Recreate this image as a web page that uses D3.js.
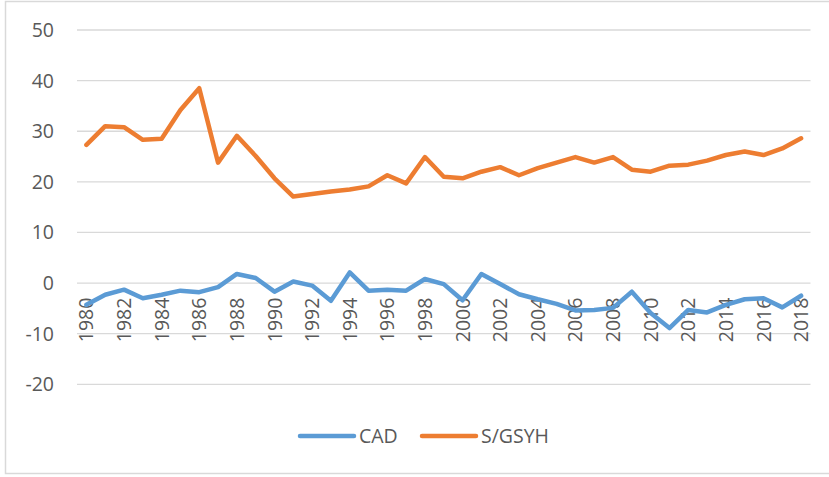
<!DOCTYPE html>
<html>
<head>
<meta charset="utf-8">
<script src="https://cdn.jsdelivr.net/npm/d3@7"></script>
<style>
  body { margin: 0; background: #fff; }
  svg { display: block; font-family: "Open Sans", "Liberation Sans", sans-serif; }
</style>
</head>
<body>
<svg id="chart" width="829" height="477"></svg>
<script>
"use strict";

var years = d3.range(1980, 2019);
var yTicks = [-20, -10, 0, 10, 20, 30, 40, 50];

// CAD
var cadValues = [
  -4.3, -2.3, -1.3, -3.0, -2.3, -1.5, -1.8, -0.8, 1.8, 1.0,
  -1.7, 0.3, -0.5, -3.5, 2.1, -1.5, -1.3, -1.5, 0.8, -0.2,
  -3.4, 1.8, -0.2, -2.2, -3.2, -4.1, -5.4, -5.3, -4.9, -1.7,
  -5.9, -8.9, -5.3, -5.8, -4.3, -3.2, -3.0, -4.8, -2.5
];

// S/GSYH
var sgsyhValues = [
  27.3, 31.0, 30.8, 28.3, 28.5, 34.2, 38.5, 23.8, 29.1, 25.1,
  20.7, 17.1, 17.6, 18.1, 18.5, 19.1, 21.3, 19.7, 24.9, 21.0,
  20.7, 22.0, 22.9, 21.3, 22.7, 23.8, 24.9, 23.8, 24.9, 22.4,
  22.0, 23.2, 23.4, 24.2, 25.3, 26.0, 25.3, 26.6, 28.6
];

var seriesNames = ["CAD", "S/GSYH"];
var seriesColors = ["#5B9BD5", "#ED7D31"];

var svg = d3.select("#chart");
var textColor = "#595959";
var gridColor = "#D9D9D9";

// chart frame (right edge runs off the picture)
svg.append("rect")
  .attr("x", 5.5).attr("y", 1.5)
  .attr("width", 840).attr("height", 472)
  .attr("fill", "none")
  .attr("stroke", gridColor)
  .attr("stroke-width", 1.5);

var x = d3.scalePoint().domain(years).range([77, 810.5]).padding(0.5);
var y = d3.scaleLinear().domain([-20, 50]).range([384.3, 30]);

// gridlines
svg.append("g")
  .selectAll("line")
  .data(yTicks)
  .enter()
  .append("line")
  .attr("x1", 77).attr("x2", 810.5)
  .attr("y1", function (d) { return y(d); })
  .attr("y2", function (d) { return y(d); })
  .attr("stroke", gridColor)
  .attr("stroke-width", 1.3);

// y tick labels
svg.append("g")
  .selectAll("text")
  .data(yTicks)
  .enter()
  .append("text")
  .attr("x", 54)
  .attr("y", function (d) { return y(d); })
  .attr("dy", "0.36em")
  .attr("text-anchor", "end")
  .attr("fill", textColor)
  .style("font-size", "19.5px")
  .text(function (d) { return d; });

// x tick labels, every second year, hanging below the zero line
svg.append("g")
  .selectAll("text")
  .data(years.filter(function (d, i) { return i % 2 === 0; }))
  .enter()
  .append("text")
  .attr("transform", function (d) { return "translate(" + x(d) + "," + (y(0) + 14.5) + ") rotate(-90)"; })
  .attr("dy", "0.36em")
  .attr("text-anchor", "end")
  .attr("fill", textColor)
  .style("font-size", "19.5px")
  .text(function (d) { return d; });

var line = d3.line()
  .x(function (d, i) { return x(years[i]); })
  .y(function (d) { return y(d); });

[cadValues, sgsyhValues].forEach(function (values, i) {
  svg.append("path")
    .datum(values)
    .attr("d", line)
    .attr("fill", "none")
    .attr("stroke", seriesColors[i])
    .attr("stroke-width", 4.5)
    .attr("stroke-linejoin", "round")
    .attr("stroke-linecap", "round");
});

// legend
var legendItems = [{ x: 300, name: seriesNames[0], color: seriesColors[0] },
                   { x: 422, name: seriesNames[1], color: seriesColors[1] }];
var legend = svg.append("g").selectAll("g")
  .data(legendItems)
  .enter()
  .append("g")
  .attr("transform", function (d) { return "translate(" + d.x + ",436)"; });

legend.append("line")
  .attr("x1", 0).attr("x2", 54)
  .attr("stroke", function (d) { return d.color; })
  .attr("stroke-width", 4.5)
  .attr("stroke-linecap", "round");

legend.append("text")
  .attr("x", 59)
  .attr("dy", "0.36em")
  .attr("fill", textColor)
  .style("font-size", "19.5px")
  .text(function (d) { return d.name; });
</script>
</body>
</html>
